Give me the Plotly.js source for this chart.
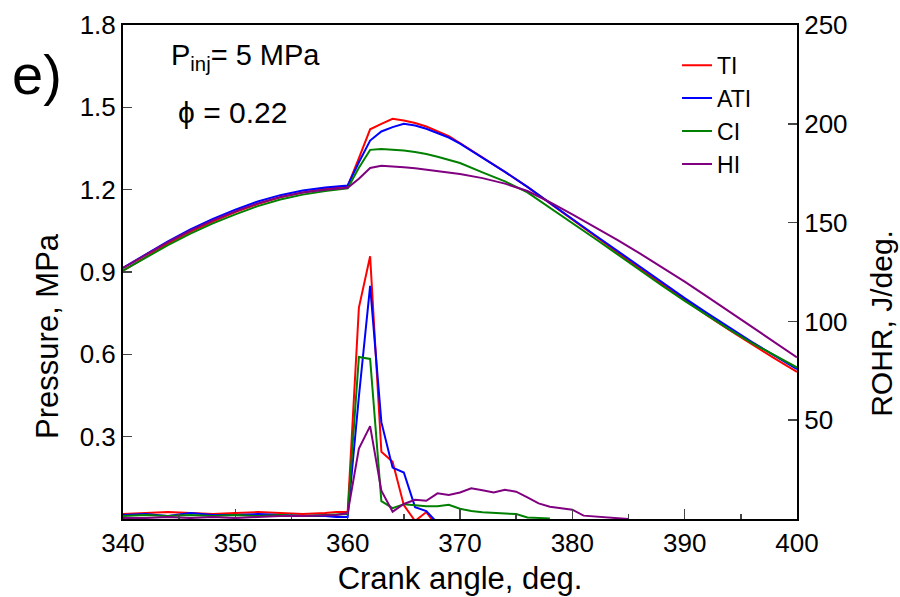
<!DOCTYPE html>
<html>
<head>
<meta charset="utf-8">
<script src="https://cdn.plot.ly/plotly-3.0.1.min.js"></script>
<style>html,body{margin:0;padding:0;background:#fff;}</style>
</head>
<body>
<div id="chart" style="width:900px;height:597px;"></div>
<script>
// Pressure (MPa) vs crank angle
const pAngle = [340,342,344,346,348,350,352,354,356,358,360,361,362,363,364,365,366,367,368,369,370,372,374,376,378,380,382,384,386,388,390,392,394,396,398,400];
const pTI  = [0.905,0.955,1.003,1.046,1.084,1.118,1.148,1.172,1.190,1.203,1.213,1.315,1.420,1.440,1.458,1.452,1.443,1.430,1.413,1.395,1.370,1.318,1.265,1.210,1.150,1.090,1.030,0.972,0.913,0.855,0.798,0.742,0.688,0.635,0.585,0.536];
const pATI = [0.915,0.965,1.012,1.055,1.093,1.127,1.157,1.180,1.197,1.208,1.215,1.300,1.379,1.412,1.428,1.440,1.434,1.422,1.407,1.390,1.368,1.317,1.265,1.210,1.150,1.093,1.035,0.977,0.918,0.860,0.805,0.750,0.697,0.645,0.595,0.546];
const pCI  = [0.905,0.952,0.998,1.040,1.077,1.110,1.140,1.164,1.182,1.195,1.205,1.280,1.345,1.348,1.346,1.343,1.337,1.330,1.320,1.308,1.297,1.263,1.230,1.190,1.135,1.080,1.022,0.965,0.907,0.850,0.795,0.742,0.690,0.641,0.595,0.552];
const pHI  = [0.915,0.963,1.009,1.051,1.088,1.121,1.150,1.173,1.190,1.200,1.207,1.240,1.279,1.287,1.285,1.282,1.278,1.273,1.268,1.262,1.257,1.242,1.222,1.195,1.155,1.110,1.065,1.017,0.968,0.917,0.865,0.810,0.755,0.700,0.645,0.589];

// ROHR (J/deg) vs crank angle
const rAngle = [340,342,344,346,348,350,352,354,356,358,359,360,361,362,363,364,365,366,367,368,369,370,371,372,373,374,375,376,377,378,379,380,381,382,383,384,385];
const rTI  = [2.5,3,3.5,3,2.5,3,3.5,3,2.5,3,3.5,3.5,107,133,34,29,7,-1,3.5,-4,null,null,null,null,null,null,null,null,null,null,null,null,null,null,null,null,null];
const rATI = [2,2.5,1.5,3,2,2,2.5,2,1.5,1.5,1,1,62,118,49,26,23.5,6,4,-2,null,null,null,null,null,null,null,null,null,null,null,null,null,null,null,null,null];
const rCI  = [1.5,2,1.5,2,1.5,2,1.5,2,1.5,2,2,2.5,82,81,9,5.5,7.5,7,6.5,6.5,7.2,5.2,4,3.4,3,2.8,2.5,0.8,0.5,0.3,null,null,null,null,null,null,null];
const rHI  = [0.5,0.5,1,0.5,1,0.5,1,1.5,1.5,2,2,3,35.6,47,14.3,3.7,7.6,9.7,9.2,13,12.1,13.4,15.5,14.5,13.4,14.8,13.8,10.9,7.9,6.2,5.5,4.7,1.7,1.2,0.8,0.3,0];

const names = ['TI','ATI','CI','HI'];
const colors = ['#ff0000','#0000ff','#008000','#800080'];
const pSeries = [pTI,pATI,pCI,pHI];
const rSeries = [rTI,rATI,rCI,rHI];

const pTicks = [0.3,0.6,0.9,1.2,1.5,1.8];
const rTicks = [50,100,150,200,250];

const traces = [];
pSeries.forEach((s,i)=>{
  traces.push({x:pAngle,y:s,type:'scatter',mode:'lines',name:names[i],
    line:{color:colors[i],width:2},xaxis:'x',yaxis:'y'});
});
rSeries.forEach((s,i)=>{
  traces.push({x:rAngle,y:s,type:'scatter',mode:'lines',name:names[i],showlegend:false,
    line:{color:colors[i],width:2},xaxis:'x',yaxis:'y2',connectgaps:false});
});

const fontFam = 'Liberation Sans, Arial, sans-serif';
const layout = {
  width:900,height:597,
  paper_bgcolor:'#fff',plot_bgcolor:'#fff',
  margin:{l:123,r:103,t:25,b:78},
  font:{family:fontFam,color:'#000',size:26},
  showlegend:true,
  legend:{x:0.822,xanchor:'left',y:0.962,yanchor:'top',bgcolor:'rgba(0,0,0,0)',
    font:{size:23,family:fontFam},tracegroupgap:0},
  xaxis:{range:[340,400],dtick:10,tick0:340,ticks:'inside',ticklen:10,tickwidth:1.5,
    minor:{dtick:5,ticks:'inside',ticklen:5,tickwidth:1.5},
    showline:true,linewidth:2,linecolor:'#000',mirror:true,showgrid:false,zeroline:false,
    tickfont:{size:26},
    title:{text:'Crank angle, deg.',font:{size:31},standoff:10}},
  yaxis:{range:[0,1.8],tickvals:pTicks,ticktext:pTicks.map(v=>v.toFixed(1)),
    ticks:'inside',ticklen:9,tickwidth:1.5,showline:true,linewidth:2,linecolor:'#000',
    showgrid:false,zeroline:false,tickfont:{size:26}},
  yaxis2:{range:[0,250],overlaying:'y',side:'right',tickvals:rTicks,
    ticks:'inside',ticklen:9,tickwidth:1.5,showline:true,linewidth:2,linecolor:'#000',
    showgrid:false,zeroline:false,tickfont:{size:26}},
  annotations:[
    {text:'e)',xref:'paper',yref:'paper',x:-0.128,y:0.9,xanchor:'center',yanchor:'middle',
      showarrow:false,font:{size:56}},
    {text:'P<sub>inj</sub>= 5 MPa',xref:'paper',yref:'paper',x:0.068,y:0.935,xanchor:'left',yanchor:'middle',
      showarrow:false,font:{size:29}},
    {text:'\u03D5 = 0.22',xref:'paper',yref:'paper',x:0.078,y:0.822,xanchor:'left',yanchor:'middle',
      showarrow:false,font:{size:30}},
    {text:'Pressure, MPa',xref:'paper',yref:'paper',x:-0.111,y:0.371,xanchor:'center',yanchor:'middle',
      textangle:-90,showarrow:false,font:{size:31}},
    {text:'ROHR, J/deg.',xref:'paper',yref:'paper',x:1.126,y:0.397,xanchor:'center',yanchor:'middle',
      textangle:-90,showarrow:false,font:{size:30}}
  ]
};

Plotly.newPlot('chart',traces,layout,{displayModeBar:false,staticPlot:true});
</script>
</body>
</html>
